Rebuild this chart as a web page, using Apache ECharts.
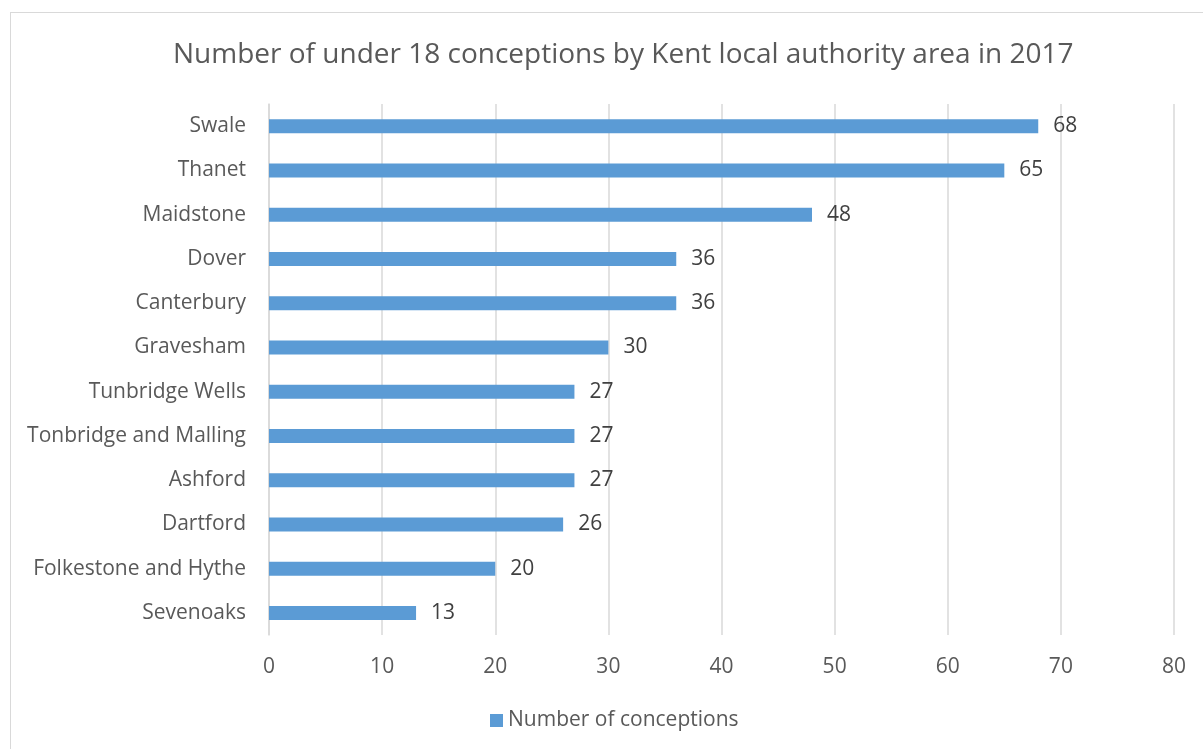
<!DOCTYPE html>
<html>
<head>
<meta charset="utf-8">
<script src="https://cdn.jsdelivr.net/npm/echarts@6/dist/echarts.min.js"></script>
<style>
  html, body { margin: 0; padding: 0; background: #fff; }
  #frame { position: absolute; left: 10px; top: 12px; width: 1193px; height: 737px;
           border-top: 1.5px solid #d9d9d9; border-left: 1.5px solid #d9d9d9; box-sizing: border-box; }
  #chart { position: absolute; left: 0; top: 0; width: 1203px; height: 749px; }
</style>
</head>
<body>
<div id="frame"></div>
<div id="chart"></div>
<script>
// Local authority areas, listed bottom to top as the category axis draws them
const areas = ['Sevenoaks', 'Folkestone and Hythe', 'Dartford', 'Ashford', 'Tonbridge and Malling',
  'Tunbridge Wells', 'Gravesham', 'Canterbury', 'Dover', 'Maidstone', 'Thanet', 'Swale'];
// Under 18 conceptions in 2017 for each area
const conceptions = [13, 20, 26, 27, 27, 27, 30, 36, 36, 48, 65, 68];
const seriesName = 'Number of conceptions';
const chartTitle = 'Number of under 18 conceptions by Kent local authority area in 2017';

const FONT = '"Open Sans", Lato, sans-serif';
const chart = echarts.init(document.getElementById('chart'), null, { renderer: 'canvas' });
chart.setOption({
  animation: false,
  backgroundColor: 'transparent',
  title: {
    text: chartTitle,
    left: 168,
    top: 36,
    textStyle: { fontFamily: FONT, fontSize: 28, fontWeight: 'normal', color: '#595959' }
  },
  legend: {
    data: [seriesName],
    bottom: 13,
    left: 485,
    icon: 'rect',
    itemWidth: 13,
    itemHeight: 13,
    itemGap: 6,
    textStyle: { fontFamily: FONT, fontSize: 21, color: '#595959' }
  },
  grid: { left: 269, right: 29, top: 104, bottom: 114, containLabel: false },
  xAxis: {
    type: 'value',
    min: 0,
    max: 80,
    interval: 10,
    axisLine: { show: false },
    axisTick: { show: false },
    splitLine: { show: true, lineStyle: { color: '#d9d9d9', width: 1.5 } },
    axisLabel: { margin: 22, fontFamily: FONT, fontSize: 21, color: '#595959' }
  },
  yAxis: {
    type: 'category',
    data: areas,
    axisLine: { show: true, lineStyle: { color: '#d9d9d9', width: 1.5 } },
    axisTick: { show: false },
    axisLabel: { margin: 23, fontFamily: FONT, fontSize: 21, color: '#595959', padding: [3, 0, 0, 0] }
  },
  series: [{
    name: seriesName,
    type: 'bar',
    data: conceptions,
    barWidth: 14,
    itemStyle: { color: '#5b9bd5' },
    label: {
      show: true,
      position: 'right',
      distance: 15,
      fontFamily: FONT,
      fontSize: 21,
      color: '#404040',
      padding: [3, 0, 0, 0]
    }
  }]
});
</script>
</body>
</html>
